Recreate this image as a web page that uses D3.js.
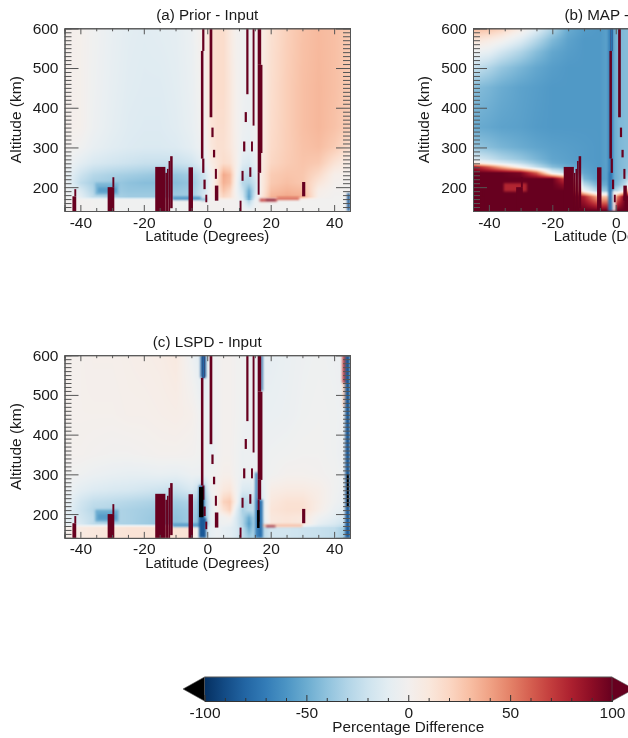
<!DOCTYPE html>
<html>
<head>
<meta charset="utf-8">
<style>
  html, body { margin: 0; padding: 0; background: #fff; }
  #chart { position: relative; width: 628px; height: 738px; overflow: hidden; }
  #chart canvas { position: absolute; filter: blur(0.5px); }
  #chart svg { position: absolute; left: 0; top: 0; }
  text { font-family: "Liberation Sans", Arial, sans-serif; fill: #1a1a1a; }
</style>
</head>
<body>
<div id="chart"></div>
<script src="https://cdnjs.cloudflare.com/ajax/libs/d3/7.2.1/d3.min.js"></script>
<script>
  // values, percent difference on lat/alt knots
  const lats = [-45,-40,-36,-30,-25,-20,-15,-10,-5,-1,1,3,5,7,9,11,13,15,17,20,25,30,35,40,45];
  const altsAC = [140,165,168,175,190,210,230,260,300,350,450,600];

  const fieldA = [
    [0,0,-1,-2,-2,-2,-2,-2,-2,-1,0,0,0,0,0,-2,-4,-2,0,-1,-1,-1,-1,-1,-1],
    [0,0,-1,-2,-2,-2,-2,-2,-2,-1,0,0,0,0,0,-8,-30,-6,0,-1,-1,-1,-1,-1,-1],
    [-1,-2,-3,-4,-4,-4,-4,-4,-4,-2,0,2,5,4,0,-10,-50,-8,2,5,5,5,-1,-1,-1],
    [-2,-10,-25,-32,-35,-35,-35,-35,-35,-15,0,10,20,15,0,-15,-55,-15,10,34,38,36,3,-1,-1],
    [-3,-15,-30,-35,-38,-38,-38,-38,-35,-18,0,12,28,20,-2,-20,-50,-20,8,30,34,32,5,0,0],
    [-5,-25,-33,-36,-40,-42,-42,-42,-38,-20,-2,15,35,30,0,-28,-30,-20,8,26,30,27,12,2,0],
    [-5,-20,-28,-32,-34,-36,-38,-38,-34,-18,-2,12,38,32,2,-22,-25,-15,8,25,28,27,18,4,2],
    [-2,-10,-15,-18,-20,-22,-22,-22,-18,-8,6,12,17,15,4,-12,-15,-8,8,20,25,28,26,14,5],
    [1,-2,-7,-11,-13,-14,-14,-13,-9,-2,10,15,15,11,3,-6,-8,-4,7,18,24,29,31,25,16],
    [3,2,-4,-9,-12,-13,-13,-11,-7,0,12,16,16,11,2,-4,-6,-3,7,17,24,30,33,29,23],
    [3,2,-3,-8,-11,-12,-12,-10,-6,2,14,17,17,11,2,-3,-5,-2,7,16,24,30,33,30,25],
    [3,2,-2,-7,-10,-11,-10,-9,-5,5,15,17,17,9,1,-2,-4,-1,6,15,23,29,32,30,25]
  ];

  const fieldC = [
    [3,8,10,12,13,13,13,13,13,-20,-8,-5,-8,-10,-15,-25,-35,-30,-30,-18,-18,-20,-22,-25,-40],
    [3,8,10,12,13,13,13,13,13,-20,-8,-5,-8,-10,-15,-25,-50,-30,-30,-18,-18,-20,-22,-25,-40],
    [0,2,2,4,4,4,2,2,2,-30,-9,-5,-6,-8,-15,-28,-52,-30,-25,-5,-5,-8,-16,-20,-32],
    [-8,-15,-25,-30,-32,-35,-38,-40,-35,-50,-10,-5,-3,-5,-15,-30,-55,-30,-20,10,12,10,-8,-15,-25],
    [-8,-18,-25,-30,-32,-35,-38,-40,-35,-45,-8,-3,-2,2,-15,-30,-50,-30,-15,10,12,10,-3,-10,-20],
    [-8,-20,-28,-30,-32,-34,-36,-38,-34,-40,-10,2,14,22,-10,-32,-25,-25,-15,12,15,15,5,-6,-12],
    [-5,-18,-24,-26,-28,-30,-32,-34,-30,-40,-10,4,22,26,2,-30,-25,-22,-15,10,14,14,6,-3,-10],
    [-3,-10,-13,-15,-16,-18,-20,-22,-15,-30,-3,3,10,12,0,-14,-15,-10,-12,6,8,8,5,-2,-8],
    [-1,-3,-5,-7,-8,-8,-7,-8,-5,-5,-2,0,3,3,-2,-5,-5,-5,-5,-2,1,1,0,-2,-6],
    [1,1,0,-1,-1,0,1,1,0,-3,-8,-2,1,1,-2,-5,-4,-5,-5,-3,-2,-1,-1,-3,-8],
    [2,2,2,2,3,3,4,5,3,-5,-4,-2,1,1,-1,-3,-5,-5,-6,-6,-5,-3,-2,-3,-5],
    [2,2,3,3,4,5,6,9,-4,-15,-2,-2,1,1,-1,-2,-4,-5,-8,-8,-6,-4,-3,-4,-6]
  ];

  // panel b runs off the page, only the part up to a few degrees N is known
  const latsB = [-45,-40,-36,-30,-25,-20,-15,-10,-5,-1,1,3,5,7];
  const altsB = [140,175,190,205,220,235,250,260,270,300,350,450,500,540,570,600];
  const fieldB = [
    [100,100,100,100,100,100,100,100,100,100,100,100,100,100],
    [100,100,100,100,100,100,100,80,30,30,60,100,100,100],
    [100,100,100,100,100,100,100,0,-35,-40,-20,0,100,100],
    [100,100,100,100,100,100,85,-25,-50,-50,-40,-25,10,100],
    [100,100,100,100,100,100,60,-45,-58,-52,-45,-35,-20,30],
    [100,100,100,95,60,-5,-25,-52,-58,-52,-45,-40,-30,-15],
    [85,60,35,0,-24,-42,-50,-55,-58,-52,-45,-42,-38,-30],
    [12,-2,-12,-25,-38,-50,-54,-56,-58,-52,-45,-42,-40,-36],
    [-14,-22,-30,-38,-46,-53,-55,-57,-58,-52,-45,-42,-40,-38],
    [-38,-42,-46,-50,-53,-55,-56,-57,-58,-52,-45,-43,-42,-42],
    [-50,-52,-54,-55,-57,-58,-58,-58,-58,-52,-45,-43,-43,-43],
    [-42,-46,-50,-54,-56,-58,-58,-58,-58,-52,-45,-43,-43,-43],
    [-22,-30,-38,-46,-52,-56,-58,-58,-58,-52,-45,-43,-43,-43],
    [-3,-8,-18,-30,-42,-52,-56,-58,-58,-52,-45,-43,-43,-43],
    [14,8,2,-12,-28,-44,-54,-58,-58,-52,-45,-43,-43,-43],
    [33,30,24,8,-10,-30,-50,-56,-58,-52,-45,-43,-43,-43]
  ];

  // saturated columns, same in every panel: [latMin, latMax, altMin, altMax]
  const strips = [
    [-42.5,-41.3,140,177], [-41.9,-41.3,177,195],
    [-31.4,-29.3,140,200], [-29.9,-29.3,200,225],
    [-16.4,-13.2,140,251], [-13.2,-12.7,140,236], [-12.7,-12.2,140,246],
    [-12.2,-11.7,140,266], [-11.7,-10.9,147,278],
    [-5.9,-4.5,140,250],
    [-2,-1.2,272,543], [-1.6,-0.9,543,600], [-1.6,-0.9,236,272],
    [-1.2,-0.5,195,219], [-0.6,0,162,181],
    [0.75,1.6,376,600], [1.3,2,326,350], [1.8,2.5,275,294],
    [2.4,3.05,221,246], [2.4,3.5,166,204],
    [12.3,13,434,600], [11.8,12.5,364,389], [11.3,12,290,315],
    [10.8,11.45,216,241], [10.2,10.8,140,166],
    [14.3,14.9,355,600], [13.8,14.4,290,315], [13.25,13.9,226,250],
    [15.9,17,508,600], [15.9,17.4,286,508], [15.9,17,236,286], [15.9,16.5,181,236],
    [29.9,30.9,177,213]
  ];

  // smaller features: [latMin, latMax, altMin, altMax, percent]
  const patchesA = [
    [-35.3,-28,181,211,-46], [-34.5,-28.5,186,200,-55], [-11,-2,168,176,-62], [-2,0,166,172,-45],
    [16.5,22,164,171,70], [22,29,168,175,58], [18.5,21.5,166,170,98],
    [44.1,45,140,185,-85]
  ];
  const patchesB = [
    [-35.3,-28,189,210,78], [-2.4,-0.9,240,600,-68], [-2.4,-1,140,240,-72], [-1,0,140,190,2]
  ];
  const patchesC = [
    [-35.3,-28,181,211,-50], [-34.5,-28.5,186,200,-56], [-11,-2,168,176,-60],
    [16,30,168,174,32], [18.5,21.5,167,171,92],
    [-2.1,-0.4,543,600,-85], [-2.6,-0.4,140,190,-85], [-2.6,-1,190,272,-85],
    [15.1,15.9,140,305,-70], [15.9,17.5,140,236,-75], [16.9,17.5,510,600,-80],
    [42.6,43.6,530,600,70], [42.8,43.6,470,530,30], [43.5,45,140,600,-85]
  ];
  // drawn on top of the saturated columns
  const overB = [[-1.6,-0.9,543,600,-75]];
  const overC = [[-1.6,-0.9,543,600,-80], [-2.6,-1.2,192,268,-120], [15.7,16.5,165,210,-120], [44,44.6,220,300,-120]];

  const latTicks = [-40,-20,0,20,40];
  const altTicks = [200,300,400,500,600];
  const barTicks = [-100,-50,0,50,100];

  const WIDTH = 628, HEIGHT = 738;
  const plotW = 285.5, plotH = 182.7;

  const rdbu = d3.scaleSequential(t => d3.interpolateRdBu(1 - t)).domain([-100, 100]).clamp(true);
  const color = v => v < -100 ? "#000" : rdbu(v);

  const chart = d3.select("#chart");
  const svg = chart.append("svg").attr("width", WIDTH).attr("height", HEIGHT);

  const panels = [
    {title: "(a) Prior - Input", left: 64.5, top: 28.3, lat: lats, alt: altsAC, field: fieldA, patches: patchesA, over: []},
    {title: "(b) MAP - Input", left: 473, top: 28.3, lat: latsB, alt: altsB, field: fieldB, patches: patchesB, over: overB},
    {title: "(c) LSPD - Input", left: 64.5, top: 355.2, lat: lats, alt: altsAC, field: fieldC, patches: patchesC, over: overC}
  ];

  // smooth shading of a knot grid, like imshow with bilinear
  const sample = (knots, v) => {
    const i = Math.min(Math.max(d3.bisectRight(knots, v) - 1, 0), knots.length - 2);
    return [i, Math.min(Math.max((v - knots[i]) / (knots[i + 1] - knots[i]), 0), 1)];
  };

  panels.forEach(p => {
    const x = d3.scaleLinear().domain([-45, 45]).range([p.left, p.left + plotW]);
    const y = d3.scaleLinear().domain([140, 600]).range([p.top + plotH, p.top]);

    const w = Math.ceil(plotW), h = Math.ceil(plotH);
    const canvas = chart.insert("canvas", "svg")
      .attr("width", w).attr("height", h)
      .style("left", p.left + "px").style("top", p.top + "px");
    const ctx = canvas.node().getContext("2d");
    for (let j = 0; j < h; j++) {
      const [ia, fa] = sample(p.alt, y.invert(p.top + j + 0.5));
      for (let i = 0; i < w; i++) {
        const [il, fl] = sample(p.lat, x.invert(p.left + i + 0.5));
        const lo = p.field[ia][il] * (1 - fl) + p.field[ia][il + 1] * fl;
        const hi = p.field[ia + 1][il] * (1 - fl) + p.field[ia + 1][il + 1] * fl;
        ctx.fillStyle = color(lo * (1 - fa) + hi * fa);
        ctx.fillRect(i, j, 1, 1);
      }
    }

    const g = svg.append("g");
    const clipId = "clip" + p.title[1];
    g.append("clipPath").attr("id", clipId).append("rect")
      .attr("x", p.left).attr("y", p.top).attr("width", plotW).attr("height", plotH);

    const drawBoxes = (data, blur) => {
      g.append("g").attr("clip-path", `url(#${clipId})`)
        .append("g").style("filter", `blur(${blur}px)`)
        .selectAll("rect")
        .data(data)
        .join("rect")
        .attr("x", d => x(d[0]))
        .attr("width", d => x(d[1]) - x(d[0]))
        .attr("y", d => y(d[3]))
        .attr("height", d => y(d[2]) - y(d[3]))
        .attr("fill", d => color(d[4]));
    };
    drawBoxes(p.patches, 0.9);
    drawBoxes(strips.map(s => [...s, 100]), 0.35);
    drawBoxes(p.over, 0.5);

    // axes on all four sides, ticks pointing inward
    const addAxis = (axis, dx, dy) => {
      const a = g.append("g").attr("transform", `translate(${dx},${dy})`).call(axis);
      a.selectAll("path, line").attr("stroke", "#555").attr("stroke-width", 1);
      a.selectAll("text").style("font-size", "15.5px").attr("fill", "#1a1a1a");
      return a;
    };
    const latMinor = d3.range(-45, 46, 5).filter(d => !latTicks.includes(d));
    const altMinor = d3.range(140, 601, 10).filter(d => !altTicks.includes(d));
    const noLabel = () => "";

    addAxis(d3.axisBottom(x).tickValues(latTicks).tickSize(-6).tickPadding(5.5).tickFormat(String), 0, p.top + plotH);
    addAxis(d3.axisBottom(x).tickValues(latMinor).tickSize(-3).tickFormat(noLabel), 0, p.top + plotH);
    addAxis(d3.axisTop(x).tickValues(latTicks).tickSize(-6).tickFormat(noLabel), 0, p.top);
    addAxis(d3.axisTop(x).tickValues(latMinor).tickSize(-3).tickFormat(noLabel), 0, p.top);
    addAxis(d3.axisLeft(y).tickValues(altTicks).tickSize(-14).tickPadding(6).tickFormat(String), p.left, 0);
    addAxis(d3.axisLeft(y).tickValues(altMinor).tickSize(-7).tickFormat(noLabel), p.left, 0);
    addAxis(d3.axisRight(y).tickValues(altTicks).tickSize(-14).tickFormat(noLabel), p.left + plotW, 0);
    addAxis(d3.axisRight(y).tickValues(altMinor).tickSize(-7).tickFormat(noLabel), p.left + plotW, 0);

    const cx = p.left + plotW / 2;
    g.append("text").attr("x", cx).attr("y", p.top - 8.5).attr("text-anchor", "middle")
      .style("font-size", "15.2px").text(p.title);
    g.append("text").attr("x", cx).attr("y", p.top + plotH + 30).attr("text-anchor", "middle")
      .style("font-size", "15px").text("Latitude (Degrees)");
    g.append("text").attr("transform", `translate(${p.left - 44},${p.top + plotH / 2}) rotate(-90)`)
      .attr("text-anchor", "middle").style("font-size", "15.5px").text("Altitude (km)");
  });

  // colour bar
  const barX = d3.scaleLinear().domain([-100, 100]).range([204.5, 612]);
  const barTop = 677, barBottom = 701;
  const barMid = (barTop + barBottom) / 2;
  const bar = svg.append("g");
  const grad = bar.append("linearGradient").attr("id", "barGrad");
  grad.selectAll("stop").data(d3.range(-100, 101, 10)).join("stop")
    .attr("offset", d => (d + 100) / 200)
    .attr("stop-color", d => rdbu(d));
  bar.append("rect").attr("x", barX(-100)).attr("y", barTop)
    .attr("width", barX(100) - barX(-100)).attr("height", barBottom - barTop)
    .attr("fill", "url(#barGrad)");
  bar.append("path")
    .attr("d", `M${barX(-100)},${barTop}L183,${barMid}L${barX(-100)},${barBottom}Z`)
    .attr("fill", "#000").attr("stroke", "#555").attr("stroke-width", 0.6);
  bar.append("path")
    .attr("d", `M${barX(100)},${barTop}L634,${barMid}L${barX(100)},${barBottom}Z`)
    .attr("fill", rdbu(100)).attr("stroke", "#555").attr("stroke-width", 0.6);
  bar.append("line").attr("x1", barX(-100)).attr("x2", barX(100)).attr("y1", barTop).attr("y2", barTop)
    .attr("stroke", "#555");

  const major = bar.append("g").attr("transform", `translate(0,${barBottom})`)
    .call(d3.axisBottom(barX).tickValues(barTicks).tickSize(-6).tickPadding(5.5).tickFormat(String));
  major.selectAll("text").style("font-size", "15.5px").attr("fill", "#1a1a1a");
  const minor = bar.append("g").attr("transform", `translate(0,${barBottom})`)
    .call(d3.axisBottom(barX).tickValues(d3.range(-90, 91, 10).filter(d => !barTicks.includes(d))).tickSize(-3).tickFormat(() => ""));
  [major, minor].forEach(a => a.selectAll("path, line").attr("stroke", "#333"));

  bar.append("text").attr("x", barX(0)).attr("y", 732).attr("text-anchor", "middle")
    .style("font-size", "15.3px").text("Percentage Difference");
</script>
</body>
</html>
